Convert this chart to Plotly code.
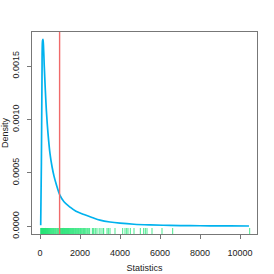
import plotly.graph_objects as go

# density curve
curve_x = [35, 70, 100, 130, 150, 180, 215, 260, 320, 400, 500, 600, 700, 820,
           1000, 1200, 1500, 1800, 2200, 2600, 3000, 3500, 4000, 4700, 5500,
           6500, 7500, 8500, 9500, 10450]
curve_y = [0.00001, 0.0006, 0.0014, 0.00174, 0.00175, 0.00166, 0.00149, 0.00130,
           0.00108, 0.00087, 0.00068, 0.00056, 0.00047, 0.00039, 0.00029, 0.00023,
           0.00018, 0.00014, 0.00011, 0.000083, 0.000058, 0.000040, 0.000029,
           0.000019, 0.000013, 0.0000085, 0.000006, 0.0000045, 0.0000035, 0.000003]

# observed statistics (rug)
rug_values = [40, 55, 65, 75, 85, 95, 105, 110, 120, 125, 135, 140, 150, 160, 170,
              180, 190, 200, 215, 230, 245, 260, 275, 290, 305, 320, 340, 360, 380,
              400, 420, 445, 470, 495, 520, 550, 580, 610, 640, 670, 700, 735, 770,
              805, 840, 880, 920, 960, 1000, 1020, 1040, 1060, 1085, 1110, 1130, 1150,
              1175, 1200, 1220, 1245, 1270, 1295, 1320, 1345, 1370, 1395, 1420, 1445,
              1470, 1500, 1530, 1560, 1590, 1620, 1650, 1680, 1710, 1745, 1780, 1815,
              1850, 1885, 1920, 1955, 1990, 2030, 2060, 2100, 2140, 2180, 2220, 2260,
              2300, 2350, 2390, 2440, 2480, 2620, 2660, 2700, 2780, 2850, 2960, 3050,
              3150, 3180, 3350, 3420, 3500, 3750, 4130, 4250, 4330, 4400, 4520, 4700,
              5020, 5180, 5270, 5350, 5600, 6100, 6630, 10480]

threshold = [980]

x_ticks = [0, 2000, 4000, 6000, 8000, 10000]
y_ticks = [0.0, 0.0005, 0.0010, 0.0015]
y_tick_labels = ["0.0000", "0.0005", "0.0010", "0.0015"]

fig = go.Figure()

fig.add_trace(go.Scatter(x=curve_x, y=curve_y, mode="lines",
                         line=dict(color="#00B2EE", width=1.7, shape="spline"),
                         hoverinfo="skip", showlegend=False))

rx, ry = [], []
for v in rug_values:
    rx += [v, v, None]
    ry += [0, 0.03, None]
fig.add_trace(go.Scatter(x=rx, y=ry, mode="lines", yaxis="y2",
                         line=dict(color="rgba(40,228,120,0.7)", width=1.2),
                         hoverinfo="skip", showlegend=False))

tx, ty = [], []
for v in threshold:
    tx += [v, v, None]
    ty += [0, 1, None]
fig.add_trace(go.Scatter(x=tx, y=ty, mode="lines", yaxis="y2",
                         line=dict(color="#F06A6A", width=1.4),
                         hoverinfo="skip", showlegend=False))

axis_font = dict(family="Liberation Sans, Arial, sans-serif", size=9, color="#222")

fig.update_layout(
    width=274, height=274,
    margin=dict(l=32, r=17, t=32, b=40),
    paper_bgcolor="white", plot_bgcolor="white",
    font=axis_font,
    xaxis=dict(range=[-400, 10850], tickvals=x_ticks, ticktext=[str(t) for t in x_ticks],
               showgrid=False, zeroline=False, showline=True, mirror=True,
               linecolor="#777", linewidth=1, ticks="outside", ticklen=4,
               tickcolor="#777", tickfont=axis_font, ticklabelstandoff=6,
               automargin=False,
               title=dict(text="Statistics", font=axis_font, standoff=7)),
    yaxis=dict(range=[-0.0000721, 0.001819], tickvals=y_ticks, ticktext=y_tick_labels,
               showgrid=False, zeroline=False, showline=True, mirror=True,
               linecolor="#777", linewidth=1, ticks="outside", ticklen=4,
               tickcolor="#777", tickfont=axis_font, tickangle=-90,
               ticklabelstandoff=4, automargin=False,
               title=dict(text="Density", font=axis_font, standoff=2)),
    yaxis2=dict(range=[0, 1], overlaying="y", visible=False),
)

fig.write_html("out.html", config={"displayModeBar": False},
               post_script="document.body.style.margin='0';document.body.style.overflow='hidden';")
